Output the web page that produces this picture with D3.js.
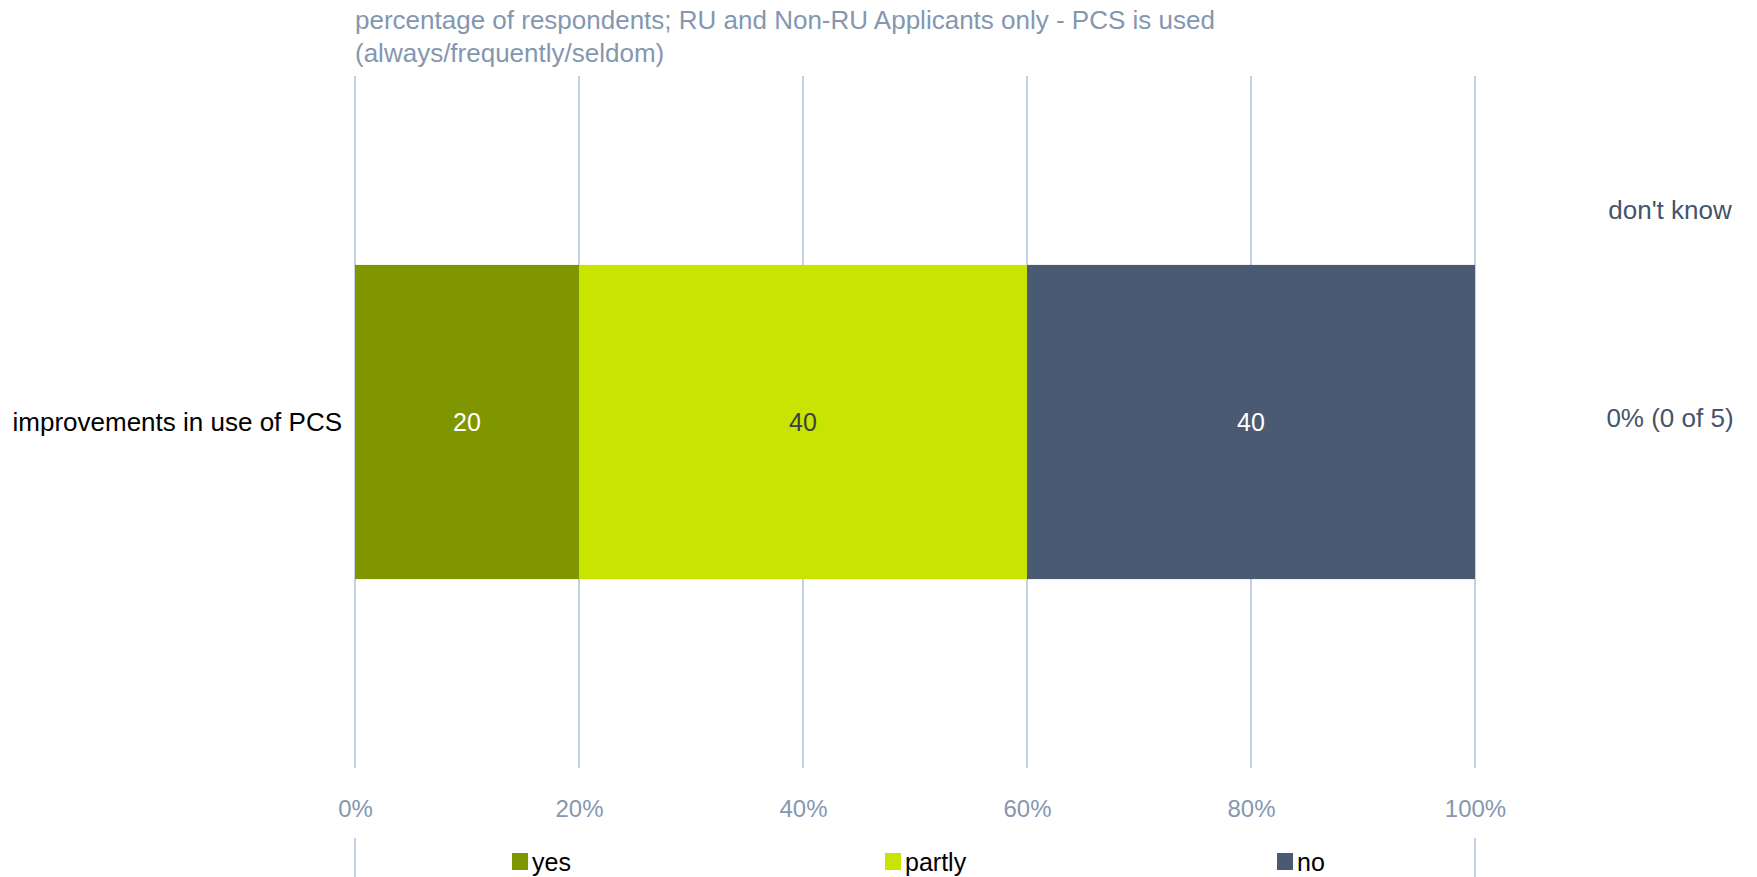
<!DOCTYPE html>
<html>
<head>
<meta charset="utf-8">
<script src="https://cdn.jsdelivr.net/npm/d3@7"></script>
<style>
  body { margin: 0; background: #fff; }
  svg { display: block; font-family: "Liberation Sans", Arial, sans-serif; }
</style>
</head>
<body>
<script>
// chart data
const categories = ["improvements in use of PCS"];
const seriesNames = ["yes", "partly", "no"];
const yesValues = [20];
const partlyValues = [40];
const noValues = [40];
const dontKnowLabels = ["0% (0 of 5)"];
const tickValues = [0, 20, 40, 60, 80, 100];
const titleLines = [
  "percentage of respondents; RU and Non-RU Applicants only - PCS is used",
  "(always/frequently/seldom)"
];

const colors = { yes: "#7f9600", partly: "#c8e400", no: "#4a5a73" };
const labelColors = { yes: "#ffffff", partly: "#404040", no: "#ffffff" };

const w = 1757, h = 877;
const padL = 355, padR = 1475, padT = 76, padB = 768;

const svg = d3.select("body").append("svg").attr("width", w).attr("height", h);

const xScale = d3.scaleLinear().domain([0, 100]).range([padL, padR]);
const yScale = d3.scaleBand().domain(categories).range([padT, padB]).padding(0.3755);

// gridlines
svg.append("g")
  .selectAll("line")
  .data(tickValues)
  .enter()
  .append("line")
  .attr("x1", d => xScale(d))
  .attr("x2", d => xScale(d))
  .attr("y1", padT)
  .attr("y2", padB)
  .attr("stroke", "#c5d0e2")
  .attr("stroke-width", 2);

// the two outer lines continue under the legend
svg.append("g")
  .selectAll("line")
  .data([0, 100])
  .enter()
  .append("line")
  .attr("x1", d => xScale(d))
  .attr("x2", d => xScale(d))
  .attr("y1", 838)
  .attr("y2", h)
  .attr("stroke", "#c5d0e2")
  .attr("stroke-width", 2);

// stack the series
const rows = categories.map((c, i) => ({ cat: c, yes: yesValues[i], partly: partlyValues[i], no: noValues[i] }));
const stack = d3.stack().keys(seriesNames)(rows);

const layers = svg.append("g")
  .selectAll("g")
  .data(stack)
  .enter()
  .append("g");

layers.selectAll("rect")
  .data(d => d.map(p => ({ key: d.key, p: p })))
  .enter()
  .append("rect")
  .attr("x", d => xScale(d.p[0]))
  .attr("y", d => yScale(d.p.data.cat))
  .attr("width", d => xScale(d.p[1]) - xScale(d.p[0]))
  .attr("height", yScale.bandwidth())
  .attr("fill", d => colors[d.key]);

layers.selectAll("text")
  .data(d => d.map(p => ({ key: d.key, p: p })))
  .enter()
  .append("text")
  .attr("x", d => (xScale(d.p[0]) + xScale(d.p[1])) / 2)
  .attr("y", d => yScale(d.p.data.cat) + yScale.bandwidth() / 2)
  .attr("dy", "0.35em")
  .attr("text-anchor", "middle")
  .attr("font-size", 25)
  .attr("fill", d => labelColors[d.key])
  .text(d => d.p[1] - d.p[0]);

// category labels
svg.append("g")
  .selectAll("text")
  .data(categories)
  .enter()
  .append("text")
  .attr("x", 342)
  .attr("y", d => yScale(d) + yScale.bandwidth() / 2)
  .attr("dy", "0.35em")
  .attr("text-anchor", "end")
  .attr("font-size", 26)
  .attr("fill", "#000")
  .text(d => d);

// x axis labels
const xAxis = d3.axisBottom(xScale).tickValues(tickValues).tickSize(0).tickPadding(0).tickFormat(d => d + "%");
const ax = svg.append("g")
  .attr("transform", "translate(0," + 800 + ")")
  .call(xAxis);
ax.select(".domain").remove();
ax.selectAll("text")
  .attr("font-size", 24)
  .attr("font-family", "Liberation Sans, Arial, sans-serif")
  .attr("fill", "#8497b0");

// title
svg.append("g")
  .selectAll("text")
  .data(titleLines)
  .enter()
  .append("text")
  .attr("x", padL)
  .attr("y", (d, i) => 20 + i * 33)
  .attr("dy", "0.35em")
  .attr("font-size", 26)
  .attr("fill", "#8497b0")
  .text(d => d);

// don't know column
svg.append("text")
  .attr("x", 1670)
  .attr("y", 210)
  .attr("dy", "0.35em")
  .attr("text-anchor", "middle")
  .attr("font-size", 26)
  .attr("fill", "#44546a")
  .text("don't know");

svg.append("g")
  .selectAll("text")
  .data(dontKnowLabels)
  .enter()
  .append("text")
  .attr("x", 1670)
  .attr("y", (d, i) => yScale(categories[i]) + yScale.bandwidth() / 2 - 4)
  .attr("dy", "0.35em")
  .attr("text-anchor", "middle")
  .attr("font-size", 26)
  .attr("fill", "#44546a")
  .text(d => d);

// legend
const legendX = [512, 885, 1277];
const legend = svg.append("g")
  .selectAll("g")
  .data(seriesNames)
  .enter()
  .append("g")
  .attr("transform", (d, i) => "translate(" + legendX[i] + ",853)");

legend.append("rect")
  .attr("width", 16)
  .attr("height", 17)
  .attr("fill", d => colors[d]);

legend.append("text")
  .attr("x", 20)
  .attr("y", 9)
  .attr("dy", "0.35em")
  .attr("font-size", 25)
  .attr("fill", "#000")
  .text(d => d);
</script>
</body>
</html>
